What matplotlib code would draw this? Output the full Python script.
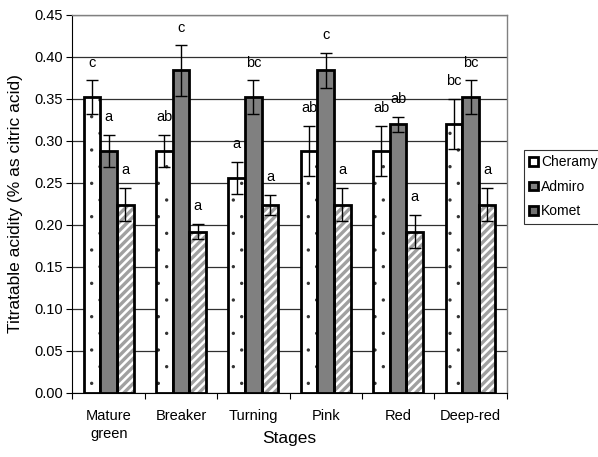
import numpy as np
import matplotlib
matplotlib.use('Agg')
import matplotlib.pyplot as plt
from matplotlib.patches import Patch

plt.rcParams['font.family'] = ['Liberation Sans', 'DejaVu Sans']

stages = ['Mature\ngreen', 'Breaker', 'Turning', 'Pink', 'Red', 'Deep-red']
varieties = ['Cheramy', 'Admiro', 'Komet']

cheramy = [0.352, 0.288, 0.256, 0.288, 0.288, 0.320]
cheramy_err = [0.020, 0.019, 0.019, 0.030, 0.030, 0.030]
admiro = [0.288, 0.384, 0.352, 0.384, 0.320, 0.352]
admiro_err = [0.019, 0.030, 0.020, 0.021, 0.009, 0.020]
komet = [0.224, 0.192, 0.224, 0.224, 0.192, 0.224]
komet_err = [0.020, 0.009, 0.012, 0.020, 0.020, 0.020]

letters_ch = ['c', 'ab', 'a', 'ab', 'ab', 'bc']
letters_ad = ['a', 'c', 'bc', 'c', 'ab', 'bc']
letters_ko = ['a', 'a', 'a', 'a', 'a', 'a']

fig = plt.figure(figsize=(5.98, 4.57), dpi=100)
ax = fig.add_axes([0.1212, 0.1407, 0.7261, 0.8265])

x = np.arange(len(stages))
w = 0.23

# values, errors, letters, face, hatch, hatch colour, hatch width
series = [
    (cheramy, cheramy_err, letters_ch, 'white', '.', '#333333', 0.0),
    (admiro, admiro_err, letters_ad, '#808080', None, None, 0),
    (komet, komet_err, letters_ko, 'white', '////', '#a0a0a0', 2.4),
]

for i, (vals, errs, lets, fc, hatch, hc, hlw) in enumerate(series):
    pos = x + (i - 1) * w
    if hatch:
        # hatch layer in grey, outline drawn on top in black
        with plt.rc_context({'hatch.linewidth': hlw}):
            bars = ax.bar(pos, vals, w, color=fc, hatch=hatch, edgecolor=hc,
                          linewidth=0, zorder=2)
            for b in bars:
                if hasattr(b, 'set_hatch_linewidth'):
                    b.set_hatch_linewidth(hlw)
        ax.bar(pos, vals, w, fill=False, edgecolor='black',
               linewidth=2, zorder=3)
    else:
        ax.bar(pos, vals, w, color=fc, edgecolor='black',
               linewidth=2, zorder=3)
    ax.errorbar(pos, vals, yerr=errs, fmt='none', ecolor='black',
                elinewidth=1, capsize=4, capthick=1, zorder=4)
    for p, v, e, t in zip(pos, vals, errs, lets):
        ax.text(p, v + e + 0.021, t, ha='center', va='center',
                fontsize=10.5, zorder=5)

ax.set_xlim(-0.5, len(stages) - 0.5)
ax.set_ylim(0, 0.45)
ax.set_yticks(np.arange(0, 0.451, 0.05))
ax.set_yticklabels(['%.2f' % v for v in np.arange(0, 0.451, 0.05)], fontsize=10.5)
ax.yaxis.grid(True, color='#303030', linewidth=0.9, zorder=0)
ax.set_axisbelow(True)

ax.set_xticks(np.arange(-0.5, len(stages), 1.0))
ax.set_xticklabels([])
ax.set_xticks(x, minor=True)
ax.set_xticklabels(stages, minor=True, fontsize=10.5, linespacing=1.35)
ax.tick_params(axis='x', which='minor', length=0, pad=12)
ax.tick_params(axis='x', which='major', length=4, direction='out')
ax.tick_params(axis='y', length=4, direction='out', pad=3)

for s in ['top', 'right']:
    ax.spines[s].set_color('#808080')
    ax.spines[s].set_linewidth(1)

ax.set_ylabel('Titratable acidity (% as citric acid)', fontsize=12.5, labelpad=8)
ax.set_xlabel('Stages', fontsize=12.5)
ax.xaxis.set_label_coords(0.5, -0.102)

handles = [Patch(facecolor='white', edgecolor='black', linewidth=2),
           Patch(facecolor='#808080', edgecolor='black', linewidth=2),
           Patch(facecolor='#707070', edgecolor='black', linewidth=2)]
leg = fig.legend(handles, varieties, loc='upper left',
                 bbox_to_anchor=(0.876, 0.672), fontsize=10, frameon=True,
                 fancybox=False, edgecolor='black', handlelength=0.6,
                 handleheight=0.6, handletextpad=0.25, labelspacing=0.75,
                 borderpad=0.4, borderaxespad=0)
leg.get_frame().set_linewidth(0.8)

fig.savefig('out.png', dpi=100)
